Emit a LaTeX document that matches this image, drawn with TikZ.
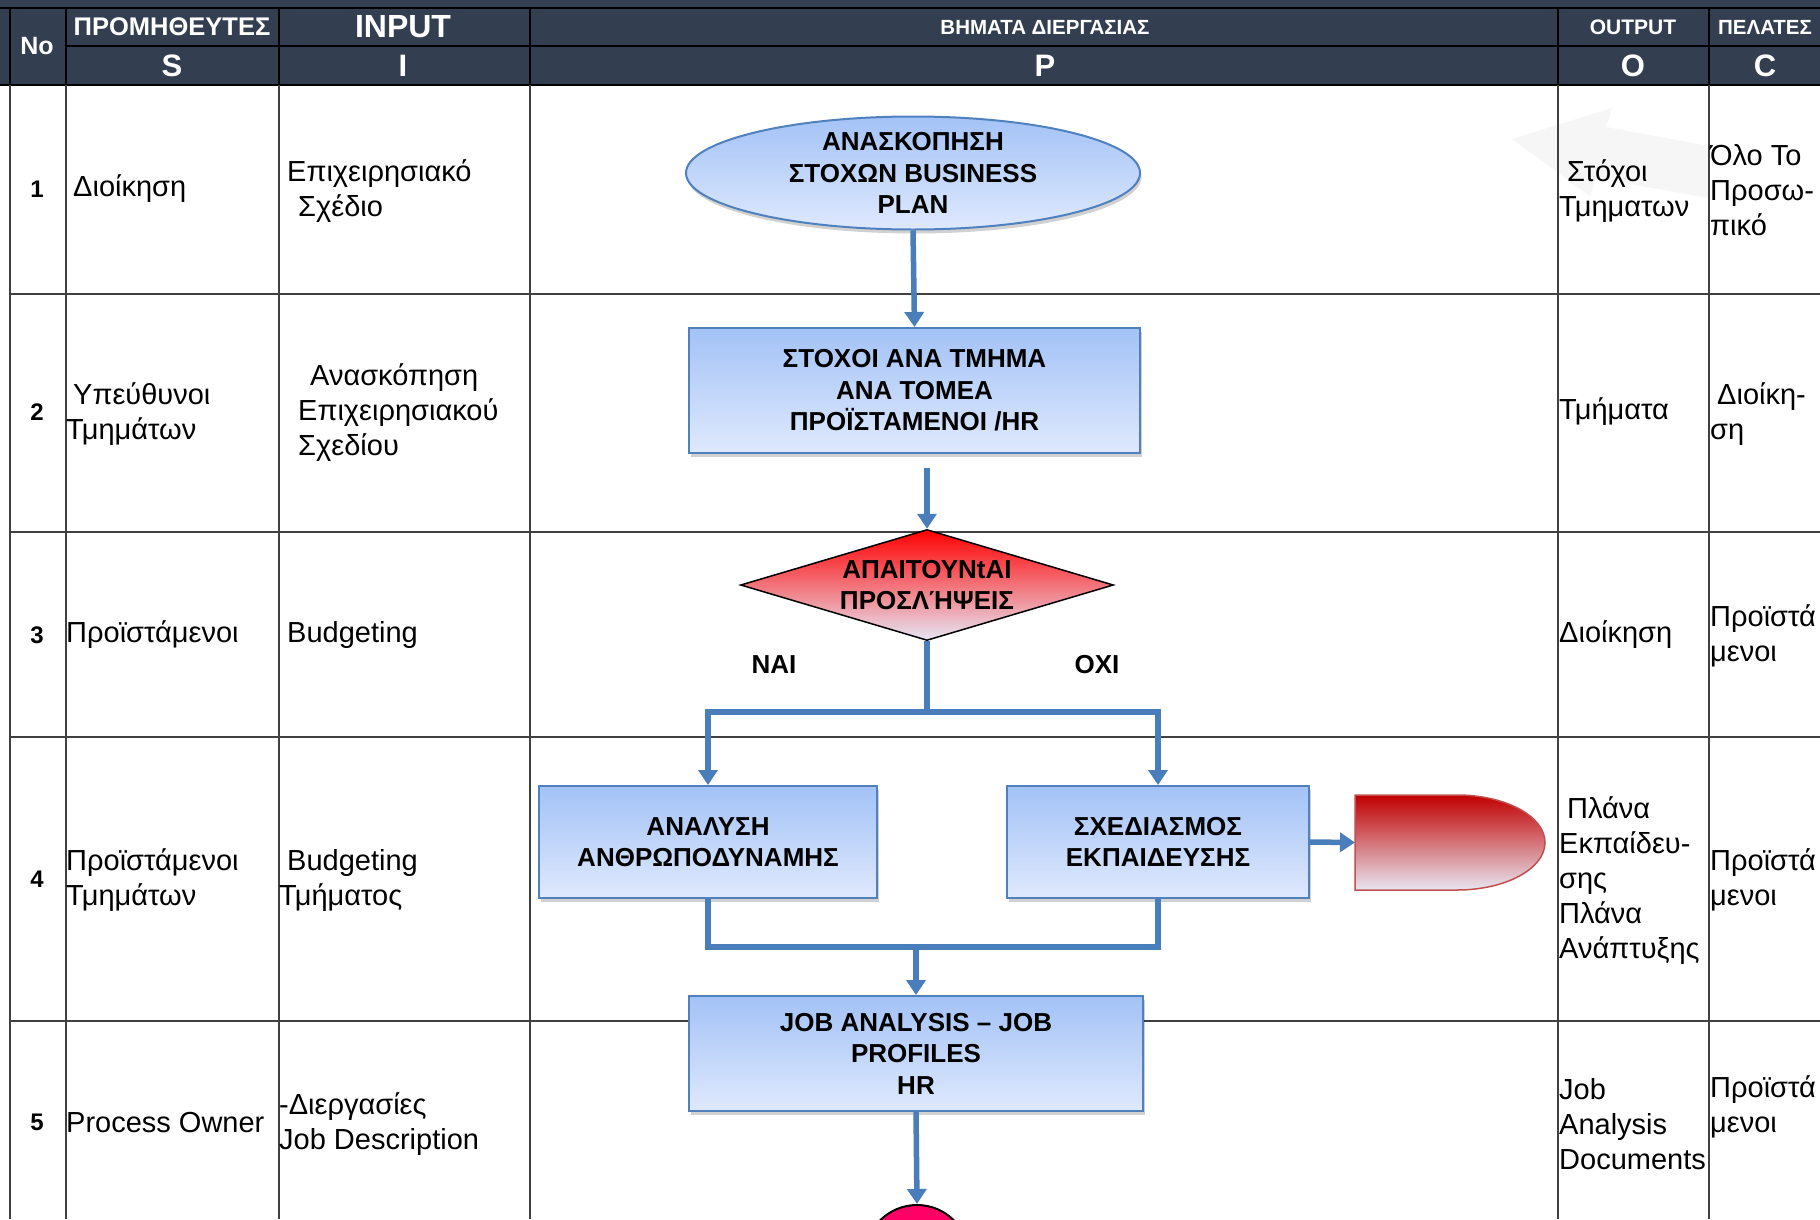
\documentclass[tikz,border=0pt]{standalone}
\usepackage{fontspec}
\setmainfont{Liberation Sans}
\usetikzlibrary{arrows.meta,shapes.geometric,shadows}

\definecolor{hdrfill}{HTML}{333F50}
\definecolor{gridgray}{HTML}{404040}
\definecolor{boxedge}{HTML}{4F81BD}
\definecolor{boxtop}{HTML}{A3C2F6}
\definecolor{boxbot}{HTML}{DFE9FD}
\definecolor{flow}{HTML}{4A7EBB}
\definecolor{alarm}{HTML}{FF0000}
\definecolor{alarmlow}{HTML}{E6E6F4}
\definecolor{holdtop}{HTML}{C00000}
\definecolor{holdlow}{HTML}{E8E6F2}
\definecolor{holdedge}{HTML}{C0504D}
\definecolor{endpink}{HTML}{FF0066}
\definecolor{ghost}{HTML}{F6F6F6}

\tikzset{
  gridline/.style={draw=gridgray, line width=2pt},
  hdrline/.style={draw=black, line width=2pt},
  hdrtext/.style={text=white, inner sep=0pt, font=\fontsize{#1}{#1}\selectfont\bfseries},
  cell/.style={anchor=west, align=left, inner sep=0pt, font=\fontsize{29}{35}\selectfont},
  rownum/.style={inner sep=0pt, font=\fontsize{24}{28}\selectfont\bfseries},
  boxfont/.style={align=center, inner sep=0pt, font=\fontsize{26}{31.5}\selectfont\bfseries},
  softshadow/.style={drop shadow={shadow xshift=1.5pt, shadow yshift=-4pt, fill=black, opacity=0.18}},
  procbox/.style={rectangle, draw=boxedge, line width=2pt, top color=boxtop, bottom color=boxbot,
    boxfont, softshadow},
  startell/.style={ellipse, draw=boxedge, line width=2pt, top color=boxtop, bottom color=boxbot,
    inner sep=0pt, minimum width=454pt, minimum height=113pt, softshadow},
  decision/.style={diamond, draw=black, line width=1.5pt, top color=alarm, bottom color=alarmlow,
    inner sep=0pt, minimum width=373pt, minimum height=111pt},
  branchtext/.style={inner sep=0pt, font=\fontsize{26}{30}\selectfont\bfseries},
  conn/.style={draw=flow, line width=5.5pt},
  arr/.style={conn, -{Triangle[length=15pt,width=19pt]}},
}

\begin{document}
\begin{tikzpicture}[x=1pt,y=-1pt]
\clip (0,0) rectangle (1820,1219);
\fill[white] (0,0) rectangle (1820,1219);

% faint background arrow in the output column
\fill[ghost] (1512,139) -- (1612,108) -- (1606,127) -- (1709,146) -- (1709,198)
  -- (1596,178) -- (1590,196) -- cycle;

% header band
\fill[hdrfill] (0,0) rectangle (1820,85);
\draw[hdrline] (0,8) -- (1820,8);
\draw[hdrline] (66,46) -- (1820,46);
\draw[hdrline] (0,85) -- (1820,85);
\foreach \x in {10,66,279,530,1558,1709} \draw[hdrline] (\x,8) -- (\x,85);

\node[hdrtext=25] (hno) at (37,46) {No};
\node[hdrtext=25.5] (hsup) at (172,27) {ΠΡΟΜΗΘΕΥΤΕΣ};
\node[hdrtext=32] (hin) at (403,27) {INPUT};
\node[hdrtext=20.5] (hproc) at (1045,27) {ΒΗΜΑΤΑ ΔΙΕΡΓΑΣΙΑΣ};
\node[hdrtext=21] (hout) at (1633,27) {OUTPUT};
\node[hdrtext=20.5] (hcus) at (1765,27) {ΠΕΛΑΤΕΣ};
\node[hdrtext=31] (hs) at (172,66) {S};
\node[hdrtext=31] (hi) at (403,66) {I};
\node[hdrtext=31] (hp) at (1045,66) {P};
\node[hdrtext=31] (ho) at (1633,66) {O};
\node[hdrtext=31] (hc) at (1765,66) {C};

% table grid
\foreach \x in {10,66,279,530,1558,1709} \draw[gridline] (\x,85) -- (\x,1219);
\foreach \y in {294,532,737,1021} \draw[gridline] (10,\y) -- (1820,\y);

% row 1
\node[rownum] (n1) at (37,189) {1};
\node[cell] (s1) at (73,189) {Διοίκηση};
\node[cell] (i1) at (287,191) {Επιχειρησιακό\\\hspace*{11pt}Σχέδιο};
\node[cell] (o1) at (1559,191) {\hspace*{8pt}Στόχοι\\Τμηματων};
\node[cell] (c1) at (1710,190) {Όλο Το\\Προσω-\\πικό};

% row 2
\node[rownum] (n2) at (37,412) {2};
\node[cell] (s2) at (66,414) {\hspace*{7pt}Υπεύθυνοι\\Τμημάτων};
\node[cell] (i2) at (298,413) {\hspace*{12pt}Ανασκόπηση\\Επιχειρησιακού\\Σχεδίου};
\node[cell] (o2) at (1559,412) {Τμήματα};
\node[cell] (c2) at (1710,414) {\hspace*{7pt}Διοίκη-\\ση};

% row 3
\node[rownum] (n3) at (37,635) {3};
\node[cell] (s3) at (66,635) {Προϊστάμενοι};
\node[cell] (i3) at (287,635) {Budgeting};
\node[cell] (o3) at (1559,635) {Διοίκηση};
\node[cell] (c3) at (1710,636) {Προϊστά\\μενοι};

% row 4
\node[rownum] (n4) at (37,879) {4};
\node[cell] (s4) at (66,880) {Προϊστάμενοι\\Τμημάτων};
\node[cell] (i4) at (279,880) {\hspace*{8pt}Budgeting\\Τμήματος};
\node[cell] (o4) at (1559,881) {\hspace*{8pt}Πλάνα\\Εκπαίδευ-\\σης\\Πλάνα\\Ανάπτυξης};
\node[cell] (c4) at (1710,880) {Προϊστά\\μενοι};

% row 5
\node[rownum] (n5) at (37,1122) {5};
\node[cell] (s5) at (66,1122) {Process Owner};
\node[cell] (i5) at (279,1124) {-Διεργασίες\\Job Description};
\node[cell] (o5) at (1559,1124) {Job\\Analysis\\Documents};
\node[cell] (c5) at (1710,1107) {Προϊστά\\μενοι};

% process flow
\node[startell, label={[boxfont]center:{ΑΝΑΣΚΟΠΗΣΗ\\ΣΤΟΧΩΝ BUSINESS\\PLAN}}] (plan) at (913,173) {};
\node[procbox, minimum width=451pt, minimum height=125pt] (goals) at (914.5,390.5)
  {ΣΤΟΧΟΙ ΑΝΑ ΤΜΗΜΑ\\ΑΝΑ ΤΟΜΕΑ\\ΠΡΟΪΣΤΑΜΕΝΟΙ /HR};
\node[decision, label={[boxfont]center:{ΑΠΑΙΤΟΥΝtΑΙ\\ΠΡΟΣΛΉΨΕΙΣ}}] (need) at (927,585) {};
\node[branchtext] (yes) at (774,665) {ΝΑΙ};
\node[branchtext] (no) at (1097,665) {ΟΧΙ};
\node[procbox, minimum width=338pt, minimum height=112pt] (manpower) at (708,842)
  {ΑΝΑΛΥΣΗ\\ΑΝΘΡΩΠΟΔΥΝΑΜΗΣ};
\node[procbox, minimum width=302pt, minimum height=112pt] (training) at (1158,842)
  {ΣΧΕΔΙΑΣΜΟΣ\\ΕΚΠΑΙΔΕΥΣΗΣ};
\node[procbox, minimum width=454pt, minimum height=115pt] (jobs) at (916,1053.5)
  {JOB ANALYSIS – JOB\\PROFILES\\HR};
\node[circle, draw=black, line width=2pt, fill=endpink, minimum size=104pt, inner sep=0pt] (next) at (917,1257) {};

% delay symbol
\draw[holdedge, line width=1.5pt, top color=holdtop, bottom color=holdlow]
  (1355,795) -- (1457,795) arc[start angle=-90, end angle=90, x radius=88, y radius=47.5]
  -- (1355,890) -- cycle;
\coordinate (hold) at (1355,842.5);

% connectors
\coordinate (goalsout) at (927,468);
\coordinate (split) at (927,712);
\coordinate (merge) at (916,947);
\draw[arr] (plan.south) -- (goals.north);
\draw[arr] (goalsout) -- (need.north);
\draw[conn] (need.south) -- (split);
\draw[arr] (split) -| (manpower.north);
\draw[arr] (split) -| (training.north);
\draw[conn] (manpower.south) |- (merge) -| (training.south);
\draw[arr] (merge) -- (jobs.north);
\draw[arr] (training.east) -- (hold);
\draw[arr] (jobs.south) -- (next.north);
\end{tikzpicture}
\end{document}
